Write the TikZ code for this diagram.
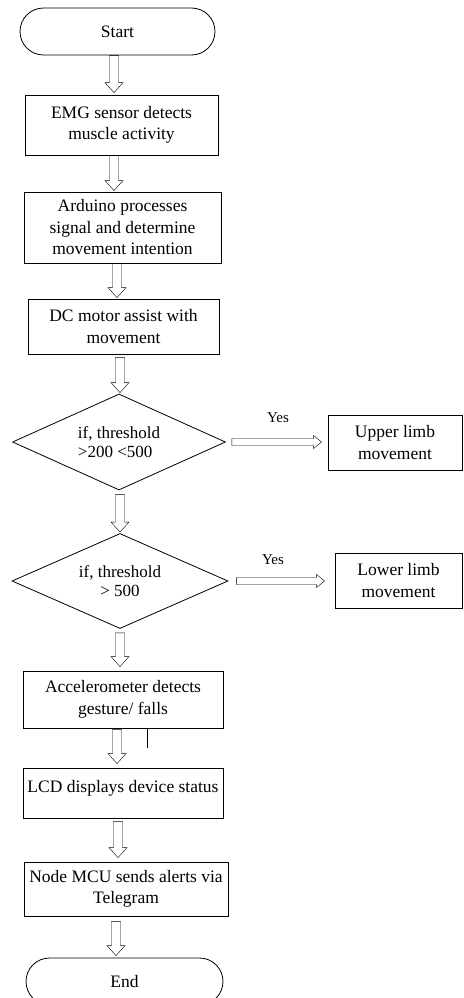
\documentclass[tikz,border=0pt]{standalone}
\usepackage{fontspec}
\setmainfont{Liberation Serif}
\usetikzlibrary{shapes.geometric,shapes.misc,calc}
\newcommand\fsz{\fontsize{17.5}{21.5}\selectfont}
\newcommand\fsd{\fontsize{17}{18.5}\selectfont}
\newcommand\fsy{\fontsize{15}{16}\selectfont}
\tikzset{
  box/.style={draw, line width=0.8pt, align=center, inner sep=0pt, font=\fsz},
  term/.style={draw, rounded rectangle, line width=0.8pt, inner sep=0pt, font=\fsz},
  dec/.style={draw, diamond, line width=0.8pt, inner sep=0pt, shape aspect=2.2, font=\fsd},
  lab/.style={inner sep=0pt, font=\fsy},
  downarrow/.style={draw=black!75, line width=0.7pt, line join=miter,
    to path={let \p1=(\tikztostart), \p2=(\tikztotarget) in
      (\x1-4.5pt,\y1) -- (\x1-4.5pt,\y2+10pt) -- (\x1-9pt,\y2+10pt) -- (\x1,\y2)
      -- (\x1+9pt,\y2+10pt) -- (\x1+4.5pt,\y2+10pt) -- (\x1+4.5pt,\y1) -- cycle}},
  rightarrow/.style={draw=black!75, line width=0.7pt, line join=miter,
    to path={let \p1=(\tikztostart), \p2=(\tikztotarget) in
      (\x1,\y1+3.5pt) -- (\x2-8pt,\y1+3.5pt) -- (\x2-8pt,\y1+6.5pt) -- (\x2,\y1)
      -- (\x2-8pt,\y1-6.5pt) -- (\x2-8pt,\y1-3.5pt) -- (\x1,\y1-3.5pt) -- cycle}},
}
\begin{document}
\begin{tikzpicture}[x=1pt,y=-1pt]
\useasboundingbox (0,0) rectangle (463,998);
\clip (0,0) rectangle (463,998);
\node[term, minimum width=195pt, minimum height=47pt] (start) at (117.5,31.5) {Start};
\node[box, minimum width=193pt, minimum height=60pt] (emg) at (121.5,125) {EMG sensor detects\\muscle activity};
\node[box, minimum width=197pt, minimum height=71pt] (ard) at (122.5,227.5) {Arduino processes\\signal and determine\\movement intention};
\node[box, minimum width=191pt, minimum height=55pt] (dc) at (123.5,326.5) {DC motor assist with\\movement};
\node[dec, minimum width=213pt, minimum height=96pt, align=left] (d1) at (119,442) {if, threshold\\>200 <500};
\node[box, minimum width=134pt, minimum height=55pt] (up) at (395,442.5) {Upper limb\\movement};
\node[dec, minimum width=216pt, minimum height=95pt, align=center] (d2) at (120,581) {if, threshold\\> 500};
\node[box, minimum width=127pt, minimum height=55pt] (low) at (398.5,580.5) {Lower limb\\movement};
\node[box, minimum width=200pt, minimum height=57pt] (acc) at (123,699.5) {Accelerometer detects\\gesture/ falls};
\node[box, minimum width=200pt, minimum height=50pt, text depth=13.5pt] (lcd) at (123,793) {LCD displays device status};
\node[box, minimum width=204pt, minimum height=54pt] (mcu) at (126,889) {Node MCU sends alerts via\\Telegram};
\node[term, minimum width=197pt, minimum height=47pt] (end) at (124.5,981.5) {End};
\node[lab] (yes1) at (278,418) {Yes};
\node[lab] (yes2) at (273,560) {Yes};

\draw ([xshift=-3.5pt]start.south) to[downarrow] ([yshift=2pt]emg.north);
\draw ([xshift=-7.5pt]emg.south) to[downarrow] ([yshift=1pt]ard.north);
\draw ([xshift=-5.5pt]ard.south) to[downarrow] ([yshift=1pt]dc.north);
\draw ([xshift=-3.5pt,yshift=-3pt]dc.south) to[downarrow] ([yshift=1pt]d1.north);
\draw ([xshift=1pt,yshift=-4pt]d1.south) to[downarrow] ([yshift=1pt]d2.north);
\draw ([yshift=-4pt]d2.south) to[downarrow] ([yshift=4pt]acc.north);
\draw ([xshift=-6pt,yshift=-1pt]acc.south) to[downarrow] ([yshift=4pt]lcd.north);
\draw ([xshift=-5pt,yshift=-3pt]lcd.south) to[downarrow] ([yshift=4pt]mcu.north);
\draw ([xshift=-10pt,yshift=-5pt]mcu.south) to[downarrow] ([yshift=2pt]end.north);
\draw ([xshift=6pt]d1.east) to[rightarrow] ([xshift=-6pt]up.west);
\draw ([xshift=8pt]d2.east) to[rightarrow] ([xshift=-10pt]low.west);
\draw[line width=0.8pt] ([xshift=24pt]acc.south) -- ++(0,20);
\end{tikzpicture}
\end{document}
